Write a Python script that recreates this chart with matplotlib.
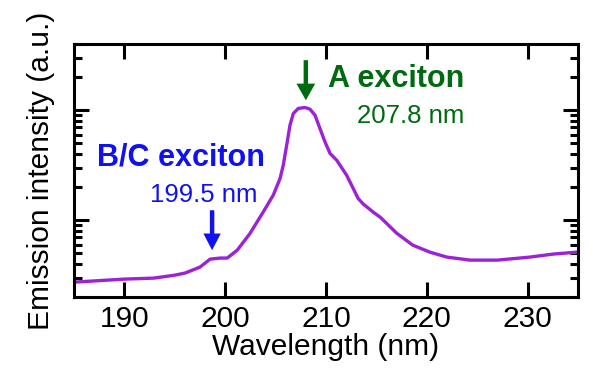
import matplotlib
matplotlib.use("Agg")
import matplotlib.pyplot as plt
from matplotlib.ticker import LogLocator, NullFormatter, FixedLocator

plt.rcParams["font.family"] = ["Liberation Sans", "DejaVu Sans"]

# emission spectrum (wavelength in nm, intensity in a.u.)
wavelength = [185.0, 190.0, 192.9, 195.0, 196.0, 197.5, 198.5, 199.5, 200.2, 201.2,
              202.46, 203.78, 204.77, 205.44, 205.76, 206.10, 206.43, 206.76, 207.25, 207.92,
              208.41, 208.91, 209.40, 209.90, 210.40, 211.06, 212.05, 213.20, 213.7, 214.7,
              215.4, 217.0, 218.6, 220.3, 222.0, 224.3, 227.0, 230.2, 232.5, 234.9]
intensity = [0.273, 0.291, 0.297, 0.316, 0.330, 0.374, 0.442, 0.452, 0.452, 0.534,
             0.757, 1.19, 1.69, 2.39, 3.16, 4.81, 7.31, 9.33, 10.37, 10.58,
             10.21, 9.00, 6.82, 5.15, 4.04, 3.51, 2.56, 1.57, 1.40, 1.18,
             1.06, 0.762, 0.593, 0.512, 0.461, 0.433, 0.433, 0.461, 0.491, 0.512]

x_ticks = [190, 200, 210, 220, 230]

PURPLE = "#9b22d6"
GREEN = "#006a10"
BLUE = "#1010f0"

fig = plt.figure(figsize=(5.93, 3.69), dpi=100)
ax = fig.add_axes([0.1248, 0.1951, 0.8499, 0.6857])

ax.plot(wavelength, intensity, color=PURPLE, lw=2.4, solid_joinstyle="round")

ax.set_yscale("log")
ax.set_xlim(185, 235)
ax.set_ylim(0.2, 40)
ax.xaxis.set_major_locator(FixedLocator(x_ticks))
ax.yaxis.set_major_locator(FixedLocator([1, 10]))
ax.yaxis.set_minor_locator(LogLocator(base=10, subs=range(2, 10)))
ax.yaxis.set_major_formatter(NullFormatter())
ax.yaxis.set_minor_formatter(NullFormatter())

for s in ax.spines.values():
    s.set_linewidth(2.2)
ax.tick_params(which="both", direction="in", top=True, right=True, width=2.2)
ax.tick_params(which="major", length=10.5, labelsize=21.5, pad=6)
ax.tick_params(which="minor", length=6)

ax.set_xlabel("Wavelength (nm)", fontsize=21.5, labelpad=0)
ax.set_ylabel("Emission intensity (a.u.)", fontsize=21.5, labelpad=8)

# A exciton
ax.annotate("", xy=(208.0, 12.3), xytext=(208.0, 28.5),
            arrowprops=dict(facecolor=GREEN, edgecolor="none", width=3.2,
                            headwidth=13.5, headlength=12, shrink=0))
ax.text(210.2, 16.2, "A exciton", color=GREEN, fontsize=22, fontweight="bold",
        va="baseline", ha="left")
ax.text(213.1, 7.6, "207.8 nm", color=GREEN, fontsize=18.5, va="baseline", ha="left")

# B/C exciton
ax.annotate("", xy=(198.7, 0.533), xytext=(198.7, 1.23),
            arrowprops=dict(facecolor=BLUE, edgecolor="none", width=3.2,
                            headwidth=12.5, headlength=12, shrink=0))
ax.text(187.3, 3.16, "B/C exciton", color=BLUE, fontsize=22, fontweight="bold",
        va="baseline", ha="left")
ax.text(192.5, 1.46, "199.5 nm", color=BLUE, fontsize=18.5, va="baseline", ha="left")

fig.savefig("out.png", dpi=100)
plt.close(fig)
